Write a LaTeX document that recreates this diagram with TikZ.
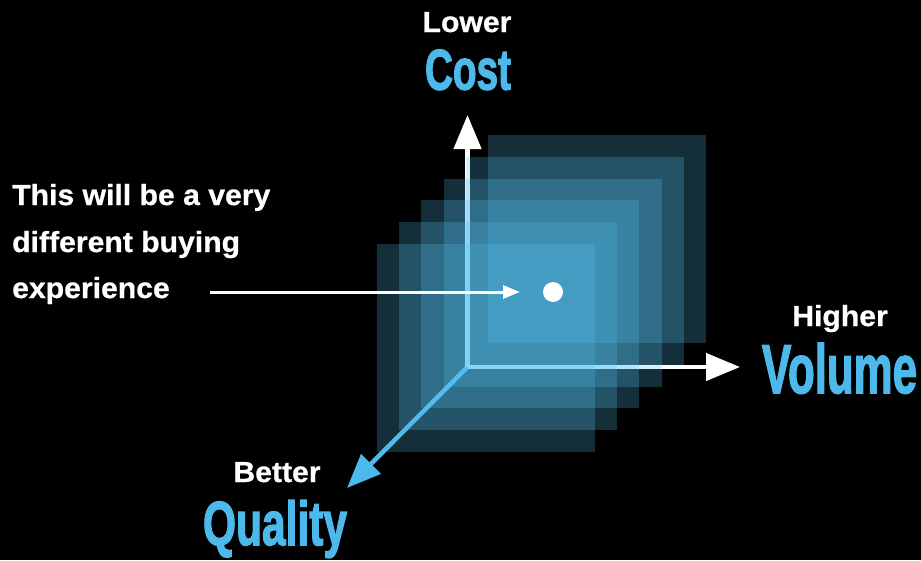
\documentclass[tikz,border=0pt]{standalone}
\usepackage{fontspec}
\usepackage{graphicx}
\setmainfont{Liberation Sans}
\newfontfamily\labelfont[FakeStretch=1.04,FakeBold=0.8]{Liberation Sans}
\newfontfamily\axisfont[FakeBold=2.4]{Liberation Sans}
\usetikzlibrary{arrows.meta}
\definecolor{axisblue}{RGB}{77,184,234}
\definecolor{layerblue}{RGB}{86,194,242}
% axis word squeezed to a given width and height
\newcommand{\axisword}[3]{\resizebox{#1}{#2}{#3}}

\begin{document}
\begin{tikzpicture}[x=1pt,y=-1pt,
  caption/.style={text=white,inner sep=0pt,
    font=\labelfont\bfseries\fontsize{29}{34}\selectfont},
  axisname/.style={text=axisblue,inner sep=0pt,
    font=\axisfont\bfseries\fontsize{60}{66}\selectfont},
  layer/.style={fill=layerblue,fill opacity=0.245,draw=none},
  axisline/.style={line width=4.5pt},
  bighead/.style={-{Triangle[length=34pt,width=27pt]}},
]
% background and page size
\fill[black] (0,0) rectangle (921,560);
\useasboundingbox (0,0) rectangle (921,560);

% axes (drawn first, so the translucent layers tint them)
\coordinate (O) at (467.5,367);
\coordinate (up) at (467.5,115);
\coordinate (right) at (740,367);
\coordinate (down) at (347,488);
\draw[axisblue,axisline,bighead] (O) -- (down);
\draw[white,axisline,bighead] (O) -- (up);
\draw[white,axisline,bighead] (O) -- (right);

% stacked translucent layers
\foreach \i in {0,...,5}
  \fill[layer] ({488-22.2*\i},{135+21.8*\i}) rectangle ++(218,208);

% pointer and marker dot
\node[circle,fill=white,minimum size=20pt,inner sep=0pt] (dot) at (553,292) {};
\coordinate (ptrstart) at (210,292);
\coordinate (ptrend) at (520,292);
\draw[white,line width=3pt,-{Triangle[length=17pt,width=13pt]}] (ptrstart) -- (ptrend);

% callout text
\node[caption,anchor=base west] (line1) at (12,205) {This will be a very};
\node[caption,anchor=base west] (line2) at (12,252) {different buying};
\node[caption,anchor=base west] (line3) at (12,298) {experience};

% axis labels
\node[caption,anchor=base] (lower) at (467,32) {Lower};
\node[axisname,anchor=base] (cost) at (468,89.5) {\axisword{86pt}{40pt}{Cost}};
\node[caption,anchor=base] (higher) at (840,326) {Higher};
\node[axisname,anchor=base] (volume) at (839.5,393) {\axisword{155pt}{50pt}{Volume}};
\node[caption,anchor=base] (better) at (277,482) {Better};
\node[axisname,anchor=base] (quality) at (275,545) {\axisword{144pt}{45pt}{Quality}};
\end{tikzpicture}
\end{document}
